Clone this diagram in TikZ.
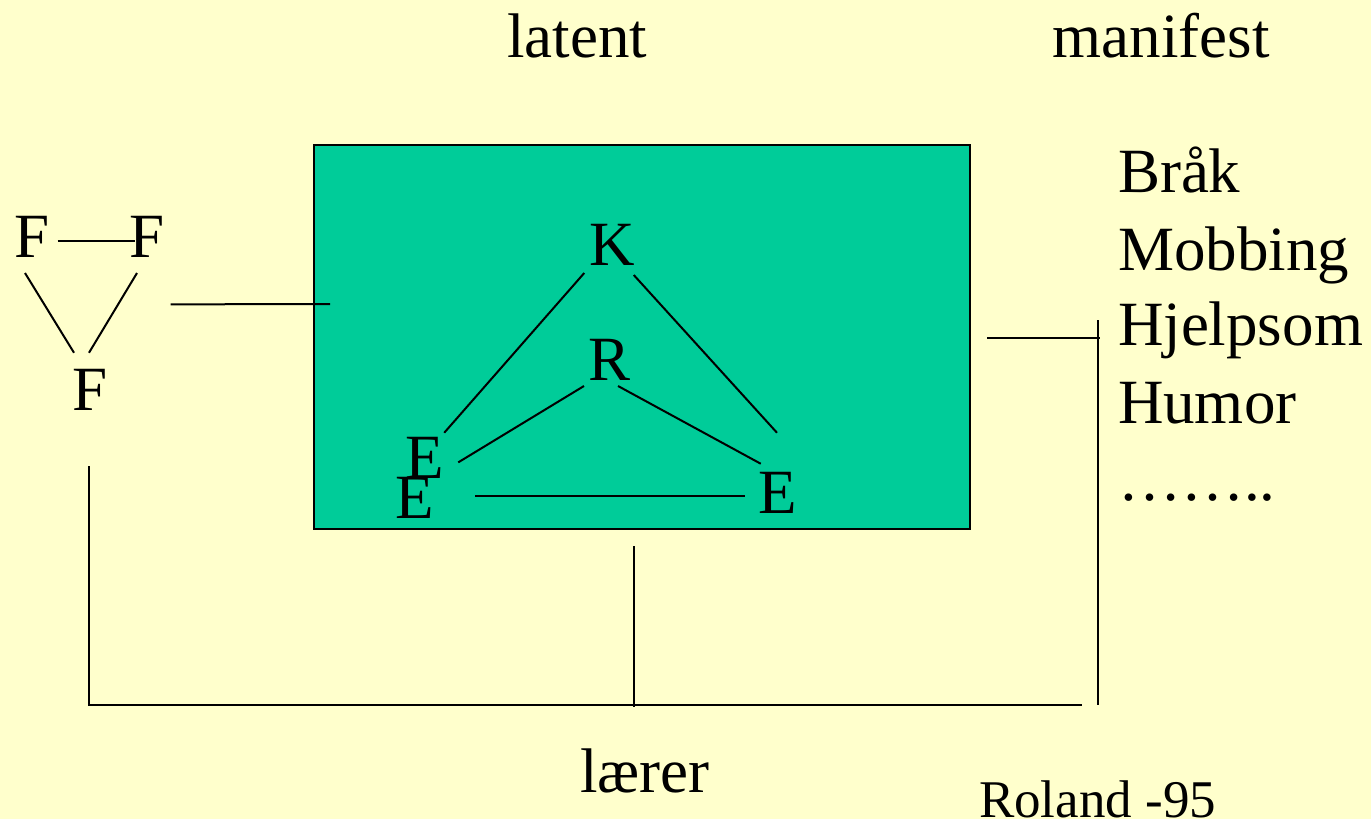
\documentclass[tikz,border=0pt]{standalone}
\usepackage{fontspec}
\setmainfont{Liberation Serif}
\usetikzlibrary{calc}
\definecolor{paper}{HTML}{FFFFCC}
\definecolor{boxgreen}{HTML}{00CC99}
\begin{document}
\begin{tikzpicture}[x=0.5pt,y=-0.5pt,line width=1pt,
  every node/.style={inner sep=0pt,anchor=base,font=\fontsize{31.5}{38}\selectfont}]
  \fill[paper] (0,0) rectangle (1371,819);
  \useasboundingbox (0,0) rectangle (1371,819);
  \node[draw,fill=boxgreen,anchor=north west,minimum width=328pt,minimum height=192pt] (box) at (313,144) {};
  \node (latent) at (577,57) {latent};
  \node (manifest) at (1161,57) {manifest};
  \node (Fa) at (32,257) {F};
  \node (Fb) at (147,257) {F};
  \node (Fc) at (90,410) {F};
  \node (K) at (612,265) {K};
  \node (R) at (610,380) {R};
  \node (Eu) at (425,478) {E};
  \node (El) at (415,518) {E};
  \node (Er) at (778,513) {E};
  \foreach \t/\y [count=\i] in {Bråk/192,Mobbing/270,Hjelpsom/345,Humor/423,……../500}
    \node[anchor=base west] (m\i) at (1117,\y) {\t};
  \node (laerer) at (645,792) {lærer};
  \node[anchor=base west,font=\fontsize{26.5}{32}\selectfont] (roland) at (978,817) {Roland -95};
  % F triangle
  \draw ($(Fa.east)+(7,5)$) -- ($(Fb.west)+(7,5)$);
  \draw ($(Fa.south)+(-7,15)$) -- ($(Fc.north)+(-16,-15)$);
  \draw ($(Fb.south)+(-10,15)$) -- ($(Fc.north)+(-1,-15)$);
  \draw ($(Fb.east)+(5,68)$) -- ($(box.north west)+(17,160)$);
  % inside the box
  \draw ($(K.south west)+(-4,7)$) -- ($(Eu.north east)+(-1,-3)$);
  \draw ($(K.south east)+(-2,9)$) -- ($(Er.north)+(-1,-38)$);
  \draw ($(R.south west)+(-4,5)$) -- ($(Eu.east)+(13,5)$);
  \draw ($(R.south east)+(-14,5)$) -- ($(Er.north west)+(3,-7)$);
  \draw ($(El.east)+(40,-1)$) -- ($(Er.west)+(-13,4)$);
  % frame
  \coordinate (bl) at (89,705);
  \coordinate (br) at (1082,705);
  \coordinate (rt) at (1098,320);
  \coordinate (rb) at (1098,705);
  \draw ($(Fc.south)+(-1,55)$) -- (bl) -- (br);
  \draw ($(box.south)+(-8,16)$) -- ++(0,161);
  \draw ($(box.east)+(16,1)$) -- ++(113,0);
  \draw (rt) -- (rb);
\end{tikzpicture}
\end{document}
